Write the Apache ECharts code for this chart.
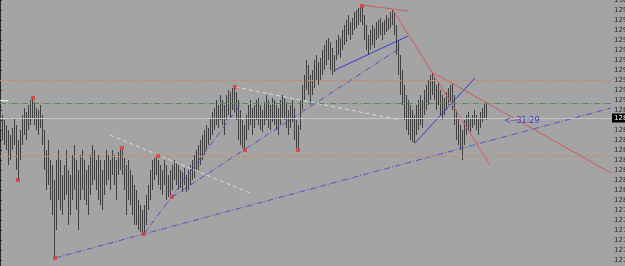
<!DOCTYPE html>
<html><head><meta charset="utf-8">
<script src="https://cdn.jsdelivr.net/npm/echarts@6/dist/echarts.min.js"></script>
<style>html,body{margin:0;padding:0;background:#a4a4a4;overflow:hidden}#c{width:625px;height:266px}</style>
</head><body><div id="c"></div>
<script>
// Bar highs / lows (price), one bar per index
const highs = [128.90,128.85,128.80,128.75,128.70,128.65,128.72,128.82,128.75,128.60,
128.70,128.85,128.92,128.88,128.95,129.00,129.02,128.98,128.92,128.90,
128.95,128.85,128.70,128.50,128.60,128.40,128.35,128.20,128.40,128.50,
128.40,128.25,128.35,128.50,128.30,128.25,128.45,128.55,128.40,128.30,
128.45,128.50,128.40,128.30,128.35,128.45,128.55,128.50,128.40,128.45,
128.40,128.30,128.40,128.50,128.45,128.40,128.50,128.45,128.40,128.48,
128.52,128.50,128.42,128.35,128.40,128.30,128.25,128.15,128.10,128.00,
127.95,127.90,127.95,128.05,128.15,128.30,128.40,128.42,128.44,128.40,
128.35,128.30,128.40,128.35,128.25,128.30,128.35,128.40,128.38,128.35,
128.30,128.28,128.32,128.25,128.30,128.35,128.40,128.45,128.50,128.55,
128.60,128.65,128.70,128.75,128.72,128.82,128.88,128.92,129.00,128.95,
129.05,129.00,128.95,129.05,129.10,129.08,129.12,129.13,129.08,129.00,
128.90,128.80,128.75,128.85,128.95,129.00,128.92,128.95,129.00,129.02,
128.95,128.90,128.98,129.05,129.00,128.95,129.02,129.00,128.95,128.92,
129.00,129.05,129.02,128.98,128.90,128.95,129.00,128.92,128.80,128.75,
129.00,129.15,129.25,129.40,129.35,129.25,129.30,129.40,129.45,129.38,
129.42,129.50,129.55,129.60,129.62,129.58,129.52,129.45,129.60,129.65,
129.62,129.70,129.75,129.80,129.85,129.78,129.82,129.88,129.90,129.92,
129.93,129.94,129.85,129.75,129.65,129.70,129.75,129.72,129.78,129.80,
129.82,129.78,129.80,129.85,129.82,129.88,129.90,129.88,129.75,129.60,
129.45,129.30,129.15,129.05,129.00,128.95,128.90,128.85,128.95,129.00,
129.05,129.00,129.10,129.15,129.20,129.25,129.28,129.22,129.15,129.18,
129.10,129.05,129.02,129.08,129.12,129.15,129.16,129.05,128.90,128.82,
128.75,128.70,128.80,128.85,128.88,128.82,128.85,128.90,128.85,128.82,
128.88,128.92,128.97,128.98];
const lows = [128.70,128.60,128.55,128.50,128.35,128.40,128.50,128.55,128.30,128.20,
128.40,128.55,128.65,128.60,128.70,128.75,128.82,128.75,128.70,128.65,
128.72,128.55,128.30,128.10,128.15,128.00,127.85,127.42,127.70,128.00,
127.90,127.85,128.00,128.05,127.75,127.85,128.00,128.10,127.90,127.70,
128.00,128.10,128.00,127.95,127.85,128.05,128.15,128.20,128.10,128.00,
127.95,127.90,128.05,128.15,128.20,128.10,128.25,128.15,128.00,128.25,
128.30,128.25,128.10,127.85,128.00,127.95,127.85,127.75,127.75,127.70,
127.68,127.65,127.66,127.75,127.90,128.00,128.10,128.20,128.25,128.15,
128.10,128.05,128.15,128.00,128.03,128.05,128.10,128.20,128.15,128.10,
128.12,128.08,128.15,128.08,128.10,128.15,128.20,128.22,128.28,128.30,
128.35,128.40,128.45,128.50,128.55,128.60,128.65,128.70,128.75,128.72,
128.80,128.75,128.65,128.80,128.85,128.82,128.90,128.88,128.80,128.60,
128.55,128.52,128.50,128.60,128.70,128.75,128.65,128.72,128.80,128.75,
128.70,128.68,128.75,128.80,128.72,128.70,128.78,128.75,128.70,128.65,
128.75,128.82,128.80,128.72,128.65,128.72,128.78,128.60,128.52,128.50,
128.70,128.90,129.00,129.10,129.05,128.95,129.05,129.12,129.20,129.15,
129.20,129.25,129.30,129.35,129.40,129.30,129.25,129.28,129.40,129.45,
129.42,129.50,129.55,129.58,129.65,129.60,129.65,129.70,129.72,129.75,
129.78,129.75,129.60,129.50,129.45,129.50,129.55,129.52,129.60,129.62,
129.65,129.60,129.65,129.68,129.70,129.72,129.75,129.65,129.45,129.25,
129.05,128.95,128.80,128.70,128.65,128.60,128.58,128.57,128.65,128.70,
128.75,128.72,128.85,128.90,128.95,129.00,129.05,129.00,128.90,128.95,
128.85,128.80,128.85,128.90,128.95,128.98,128.90,128.75,128.60,128.55,
128.50,128.40,128.55,128.65,128.70,128.68,128.72,128.75,128.70,128.65,
128.72,128.78,128.82,128.80];

// Y axis tick setup
const yMin = 127.30, yMax = 130.00, yStep = 0.10;
const xMax = 305.5;

// Swing point markers (bar index, price)
const swingX = [9, 16.5, 27.5, 61, 72, 79, 86, 117.5, 122.5, 149, 181];
const swingY = [128.20, 129.02, 127.42, 128.52, 127.66, 128.44, 128.03, 129.13, 128.50, 128.50, 129.94];

// Horizontal levels
const levelOrangeHigh = 129.20;
const levelGreen = 128.97;
const levelOrangeLow = 128.44;
const bidPrice = 128.82;

// Trend lines [x1, p1, x2, p2]
const blueDashLines = [
  [27.5, 127.42, 305.5, 128.92],
  [86, 128.03, 200, 129.52],
  [72, 127.66, 120, 128.95]
];
const whiteDashLines = [
  [55, 128.65, 125, 128.07],
  [117.5, 129.13, 200, 128.80]
];
const blueSolidLines = [
  [167.5, 129.30, 204, 129.64],
  [207.5, 128.57, 237.5, 129.22]
];
const redSolidLines = [
  [181, 129.95, 204, 129.89],
  [196.5, 129.90, 245, 128.35],
  [216, 129.28, 305.5, 128.27]
];
const timerText = '<--31:29';
const timerPos = [252, 128.79];

const bars = highs.map((h, i) => [i, h, lows[i]]);
const dashDot = [6, 2, 1, 2];

function lineSeries(seg, color, type, width) {
  return {
    type: 'line', data: [[seg[0], seg[1]], [seg[2], seg[3]]],
    symbol: 'none', silent: true, animation: false,
    lineStyle: { color: color, width: width || 1, type: type }, z: 3
  };
}

const series = [
  {
    type: 'custom', data: bars, encode: { x: 0, y: [1, 2] }, animation: false, z: 2,
    renderItem: function (params, api) {
      const x = api.value(0);
      const a = api.coord([x, api.value(1)]);
      const b = api.coord([x, api.value(2)]);
      const px = Math.round(a[0]) + 0.5;
      return { type: 'line', shape: { x1: px, y1: a[1], x2: px, y2: b[1] },
        style: { stroke: '#404040', lineWidth: 1 } };
    },
    markLine: {
      silent: true, symbol: 'none', animation: false,
      data: [
        { yAxis: levelOrangeHigh, lineStyle: { color: '#c98a6c', type: dashDot, width: 1 }, label: { show: false } },
        { yAxis: levelGreen, lineStyle: { color: '#5a8a5a', type: dashDot, width: 1 }, label: { show: false } },
        { yAxis: levelOrangeLow, lineStyle: { color: '#c98a6c', type: dashDot, width: 1 }, label: { show: false } },
        { yAxis: bidPrice, lineStyle: { color: '#c4c4c4', type: 'solid', width: 1 },
          label: { show: true, position: 'end', distance: 1, formatter: function (p) { return p.value.toFixed(3); },
            backgroundColor: '#000', color: '#fff', fontSize: 7, padding: [1, 2], fontFamily: 'DejaVu Sans' } }
      ]
    }
  }
];
blueDashLines.forEach(s => series.push(lineSeries(s, '#5252c8', dashDot, 1)));
whiteDashLines.forEach(s => series.push(lineSeries(s, '#dcdcdc', [4, 3], 1)));
blueSolidLines.forEach(s => series.push(lineSeries(s, '#3a3ad0', 'solid', 1)));
redSolidLines.forEach(s => series.push(lineSeries(s, '#d25a5a', 'solid', 1)));
series.push({
  type: 'scatter', data: swingX.map((x, i) => [x, swingY[i]]), symbol: 'rect', symbolSize: 4,
  itemStyle: { color: '#e03a3a' }, animation: false, silent: true, z: 5
});
series.push({
  type: 'scatter', data: [timerPos], symbolSize: 0, animation: false, silent: true, z: 5,
  label: { show: true, position: 'right', distance: 0, formatter: timerText, color: '#2c2cd0', fontSize: 8, fontFamily: 'DejaVu Sans' }
});
series.push({
  type: 'scatter', data: [[0, 128.99]], symbolSize: 0, animation: false, silent: true, z: 5,
  label: { show: true, position: 'right', distance: 0, formatter: '━━', color: '#ffffff', fontSize: 7 }
});

const chart = echarts.init(document.getElementById('c'), null, { renderer: 'canvas' });
chart.setOption({
  backgroundColor: '#a4a4a4',
  animation: false,
  grid: { left: 0, right: 14, top: 0, height: 270, containLabel: false, outerBoundsMode: 'none' },
  xAxis: { type: 'value', min: 0, max: xMax, show: false },
  yAxis: {
    type: 'value', position: 'right', min: yMin, max: yMax, interval: yStep,
    axisLine: { show: true, lineStyle: { color: '#2a2a2a', width: 1 } },
    axisTick: { show: true, length: 2, lineStyle: { color: '#2a2a2a' } },
    axisLabel: { fontSize: 7, color: '#2a2a2a', margin: 3, fontFamily: 'DejaVu Sans',
      formatter: function (v) { return v.toFixed(3); } },
    splitLine: { show: false }
  },
  series: series
});
</script>
</body></html>
